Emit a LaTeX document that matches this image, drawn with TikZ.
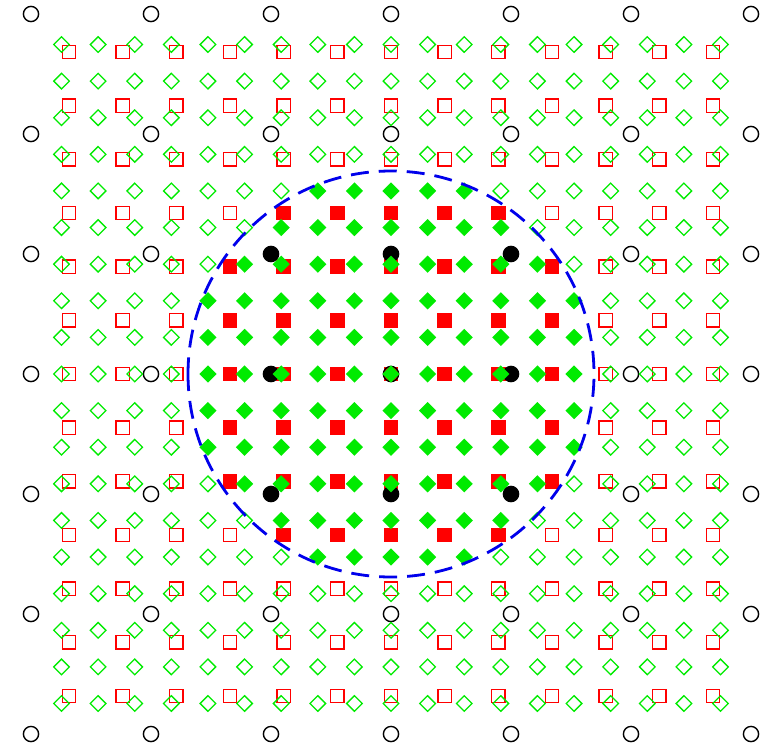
\documentclass[tikz,border=0pt]{standalone}
\definecolor{gr}{RGB}{0,235,0}
\definecolor{rd}{RGB}{255,0,0}
\definecolor{bl}{RGB}{0,0,235}
\tikzset{
  sqopen/.style={draw=rd,line width=1.3pt},
  sqfull/.style={fill=rd},
  dmopen/.style={draw=gr,line width=1.3pt},
  dmfull/.style={fill=gr},
  ciopen/.style={draw=black,line width=1.4pt},
  cifull/.style={draw=black,fill=black,line width=1.4pt},
  ring/.style={draw=bl,line width=2.8pt,dash pattern=on 18pt off 10pt,dash phase=1pt}
}
\begin{document}
\begin{tikzpicture}[x=1pt,y=-1pt]
\useasboundingbox (0,0) rectangle (767,747);
% squares
\foreach \i in {-6,...,6}{
  \foreach \j in {-6,...,6}{
    \pgfmathsetmacro\xx{391+\i*53.666}
    \pgfmathsetmacro\yy{374+\j*53.666}
    \pgfmathtruncatemacro\rr{\i*\i+\j*\j}
    \ifnum\rr<14
      \fill[sqfull] (\xx-7.4,\yy-7.4) rectangle (\xx+7.4,\yy+7.4);
    \else
      \draw[sqopen] (\xx-6.8,\yy-6.8) rectangle (\xx+6.8,\yy+6.8);
    \fi
  }
}
% circles
\foreach \i in {-3,...,3}{
  \foreach \j in {-3,...,3}{
    \pgfmathsetmacro\xx{391+\i*120}
    \pgfmathsetmacro\yy{374+\j*120}
    \pgfmathtruncatemacro\rr{\i*\i+\j*\j}
    \ifnum\rr=0
      \draw[ciopen] (\xx,\yy) circle (7.6);
    \else\ifnum\rr<3
      \draw[cifull] (\xx,\yy) circle (7.6);
    \else
      \draw[ciopen] (\xx,\yy) circle (7.6);
    \fi\fi
  }
}
% diamonds
\foreach \i in {-9,...,9}{
  \foreach \j in {-9,...,9}{
    \pgfmathsetmacro\xx{391+\i*36.61}
    \pgfmathsetmacro\yy{374+\j*36.61}
    \pgfmathtruncatemacro\rr{\i*\i+\j*\j}
    \ifnum\rr<30
      \fill[dmfull] (\xx-8.6,\yy) -- (\xx,\yy-8.6) -- (\xx+8.6,\yy) -- (\xx,\yy+8.6) -- cycle;
    \else
      \draw[dmopen] (\xx-7.8,\yy) -- (\xx,\yy-7.8) -- (\xx+7.8,\yy) -- (\xx,\yy+7.8) -- cycle;
    \fi
  }
}
% dashed ring, starting at its leftmost point
\coordinate (ringstart) at (188,374);
\draw[ring] (ringstart) arc[start angle=180, end angle=-180, radius=203];
\end{tikzpicture}
\end{document}
